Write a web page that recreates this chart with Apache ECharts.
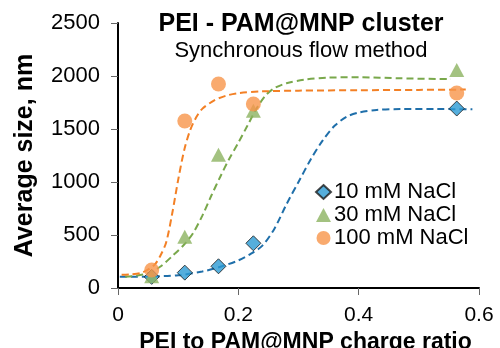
<!DOCTYPE html>
<html>
<head>
<meta charset="utf-8">
<script src="https://cdn.jsdelivr.net/npm/echarts@6/dist/echarts.min.js"></script>
<style>
  html, body { margin: 0; padding: 0; background: #fff; }
  #chart { width: 500px; height: 348px; }
</style>
</head>
<body>
<div id="chart"></div>
<script>
// measured points
const ratios = [0.056, 0.111, 0.167, 0.225, 0.563]
const size10 = [105, 145, 205, 422, 1693]
const size30 = [110, 484, 1258, 1672, 2057]
const size100 = [170, 1575, 1925, 1736, 1840]

// dashed fit curves
const fit10X = [0.003, 0.05, 0.1, 0.14, 0.17, 0.2, 0.22, 0.24, 0.26, 0.28, 0.3, 0.32, 0.34, 0.36, 0.38, 0.4, 0.43, 0.47, 0.53, 0.589]
const fit10Y = [105, 108, 120, 155, 200, 260, 320, 400, 560, 790, 1000, 1210, 1390, 1530, 1615, 1655, 1680, 1688, 1688, 1686]
const fit30X = [0.012, 0.03, 0.05, 0.07, 0.09, 0.11, 0.125, 0.14, 0.155, 0.17, 0.185, 0.2, 0.215, 0.23, 0.245, 0.26, 0.28, 0.31, 0.35, 0.4, 0.47, 0.553]
const fit30Y = [107, 115, 140, 200, 300, 410, 520, 680, 870, 1050, 1220, 1370, 1530, 1690, 1815, 1885, 1932, 1965, 1985, 1988, 1978, 1970]
const fit100X = [0.006, 0.02, 0.04, 0.06, 0.07, 0.08, 0.09, 0.1, 0.11, 0.12, 0.13, 0.14, 0.16, 0.18, 0.2, 0.24, 0.3, 0.4, 0.5, 0.578]
const fit100Y = [125, 128, 145, 215, 300, 430, 700, 1020, 1300, 1490, 1610, 1690, 1770, 1815, 1838, 1855, 1862, 1866, 1869, 1872]

const xTicks = [0, 0.2, 0.4, 0.6]
const yTicks = [0, 500, 1000, 1500, 2000, 2500]

const font = 'Liberation Sans, Arial, sans-serif'

function pairs(xs, ys) {
  return xs.map((x, i) => [x, ys[i]])
}

function fitLine(name, xs, ys, color) {
  return {
    name: name,
    type: 'line',
    data: pairs(xs, ys),
    smooth: 0.3,
    showSymbol: false,
    symbol: 'none',
    silent: true,
    lineStyle: { color: color, width: 2, type: [7, 4] },
    z: 2
  }
}

const chart = echarts.init(document.getElementById('chart'), null, { renderer: 'canvas' })

chart.setOption({
  animation: false,
  backgroundColor: '#fff',
  textStyle: { fontFamily: font },
  title: {
    text: 'PEI - PAM@MNP cluster',
    subtext: 'Synchronous flow method',
    left: 296,
    top: 7,
    textAlign: 'center',
    itemGap: 3,
    textStyle: { fontFamily: font, fontSize: 25, fontWeight: 'bold', color: '#000' },
    subtextStyle: { fontFamily: font, fontSize: 22, color: '#000' }
  },
  legend: {
    orient: 'vertical',
    left: 310,
    top: 176,
    itemGap: 1,
    itemWidth: 15,
    itemHeight: 14,
    data: ['10 mM NaCl', '30 mM NaCl', '100 mM NaCl'],
    textStyle: { fontFamily: font, fontSize: 22, color: '#000', padding: [0, 0, 0, -2] }
  },
  grid: { left: 118, right: 21, top: 23, bottom: 60, outerBoundsMode: 'none', containLabel: false },
  xAxis: {
    type: 'value',
    min: xTicks[0],
    max: xTicks[xTicks.length - 1],
    interval: 0.2,
    name: 'PEI to PAM@MNP charge ratio',
    nameLocation: 'middle',
    nameGap: 38,
    nameTextStyle: { fontFamily: font, fontSize: 23, fontWeight: 'bold', color: '#000', padding: [0, 0, 0, 14] },
    axisLine: { lineStyle: { color: '#000', width: 2 } },
    axisTick: { show: true, length: 7, lineStyle: { color: '#666', width: 1 } },
    axisLabel: { fontSize: 21, color: '#000', margin: 17 },
    splitLine: { show: false }
  },
  yAxis: {
    type: 'value',
    min: yTicks[0],
    max: yTicks[yTicks.length - 1],
    interval: 500,
    name: 'Average size, nm',
    nameLocation: 'middle',
    nameGap: 80,
    nameTextStyle: { fontFamily: font, fontSize: 25, fontWeight: 'bold', color: '#000' },
    axisLine: { show: true, lineStyle: { color: '#000', width: 2 } },
    axisTick: { show: true, length: 7, lineStyle: { color: '#666', width: 1 } },
    axisLabel: { fontSize: 22, color: '#000', margin: 18, formatter: v => String(v) },
    splitLine: { show: false }
  },
  series: [
    fitLine('fit10', fit10X, fit10Y, '#1F6FAA'),
    fitLine('fit30', fit30X, fit30Y, '#79A84B'),
    fitLine('fit100', fit100X, fit100Y, '#F38025'),
    {
      name: '10 mM NaCl',
      type: 'scatter',
      data: pairs(ratios, size10),
      symbol: 'diamond',
      symbolSize: 15,
      itemStyle: { color: '#2B9AD3', borderColor: '#1a1a1a', borderWidth: 1 },
      z: 3
    },
    {
      name: '30 mM NaCl',
      type: 'scatter',
      data: pairs(ratios, size30),
      symbol: 'triangle',
      symbolSize: [15, 14],
      itemStyle: { color: '#8CB360' },
      z: 4
    },
    {
      name: '100 mM NaCl',
      type: 'scatter',
      data: pairs(ratios, size100),
      symbol: 'circle',
      symbolSize: 15,
      itemStyle: { color: '#F7954A' },
      z: 5
    }
  ]
})
</script>
</body>
</html>
